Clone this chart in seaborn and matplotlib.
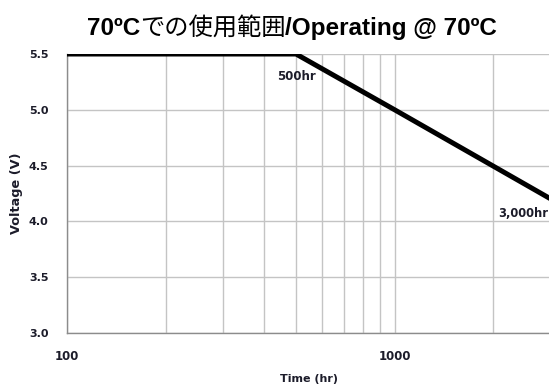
import matplotlib
matplotlib.use("Agg")
import matplotlib.pyplot as plt
import seaborn as sns
import pandas as pd
from matplotlib.ticker import FixedLocator, NullFormatter

# Operating voltage derating curve at 70 degC
hours = [100, 500, 1000, 3000]
volts = [5.5, 5.5, 5.0, 4.2]
y_ticks = [3.0, 3.5, 4.0, 4.5, 5.0, 5.5]
x_ticks = [100, 1000]
x_minor = [200, 300, 400, 500, 600, 700, 800, 900, 2000]
point_labels = ["500hr", "3,000hr"]
title_parts = ["70ºC", "での使用範囲", "/Operating @ 70ºC"]

df = pd.DataFrame({"Time (hr)": hours, "Voltage (V)": volts})

sns.set_theme(style="white")
plt.rcParams["font.family"] = ["DejaVu Sans"]

W, H = 549, 385
fig = plt.figure(figsize=(W / 100, H / 100), dpi=100)
ax = fig.add_axes([67 / W, 52 / H, 484 / W, 279 / H])

sns.lineplot(data=df, x="Time (hr)", y="Voltage (V)", ax=ax,
             color="black", linewidth=3.6, zorder=3)

ax.set_xscale("log")
ax.set_xlim(100, 3000)
ax.set_ylim(3.0, 5.5)

ax.xaxis.set_major_locator(FixedLocator(x_ticks))
ax.xaxis.set_minor_locator(FixedLocator(x_minor))
ax.xaxis.set_minor_formatter(NullFormatter())
ax.set_xticks(x_ticks)
ax.set_xticklabels([str(v) for v in x_ticks])
ax.set_yticks(y_ticks)
ax.set_yticklabels([f"{v:.1f}" for v in y_ticks])

grid_c = "#c4c4c4"
ax.grid(True, which="major", axis="both", color=grid_c, linewidth=1.0)
ax.grid(True, which="minor", axis="x", color=grid_c, linewidth=1.0)

for side in ("top", "right"):
    ax.spines[side].set_visible(False)
for side in ("left", "bottom"):
    ax.spines[side].set_color("#8c8c8c")
    ax.spines[side].set_linewidth(1.0)

text_c = "#1c1c2a"
ax.tick_params(axis="both", which="major", direction="out", length=4.3,
               width=1.0, color="#8c8c8c", labelsize=8, labelcolor=text_c)
ax.tick_params(axis="y", which="major", pad=9)
ax.tick_params(axis="x", which="major", pad=8, labelsize=8.5)
ax.tick_params(axis="x", which="minor", length=0)
for lab in ax.get_xticklabels() + ax.get_yticklabels():
    lab.set_fontweight("bold")

ax.set_xlabel("Time (hr)", fontsize=8, fontweight="bold", color=text_c, labelpad=8)
ax.set_ylabel("Voltage (V)", fontsize=9.3, fontweight="bold", color=text_c, labelpad=4.5)

ax.annotate(point_labels[0], xy=(hours[1], volts[1]), xytext=(-19, -23),
            textcoords="offset pixels", ha="left", va="center",
            fontsize=8.5, fontweight="bold", color=text_c)
ax.annotate(point_labels[1], xy=(hours[3], volts[3]), xytext=(-53, -14),
            textcoords="offset pixels", ha="left", va="center",
            fontsize=8.3, fontweight="bold", color=text_c, annotation_clip=False)

# Title: bold Latin parts with a regular-weight Japanese middle, on one baseline
renderer = fig.canvas.get_renderer()
styles = [
    dict(family=["Liberation Sans"], fontweight="bold"),
    dict(family=["Noto Sans CJK JP"], fontweight="normal"),
    dict(family=["Liberation Sans"], fontweight="bold"),
]
baseline = 1 - 35 / H
pieces = []
x_px = 0.0
for part, st in zip(title_parts, styles):
    t = fig.text(x_px / W, baseline, part, ha="left", va="baseline",
                 fontsize=17.5, color="black", **st)
    w = t.get_window_extent(renderer).width
    pieces.append((t, x_px))
    x_px += w
total = x_px
start = 292 - total / 2
for t, off in pieces:
    t.set_x((start + off) / W)

fig.savefig("out.png", dpi=100)
